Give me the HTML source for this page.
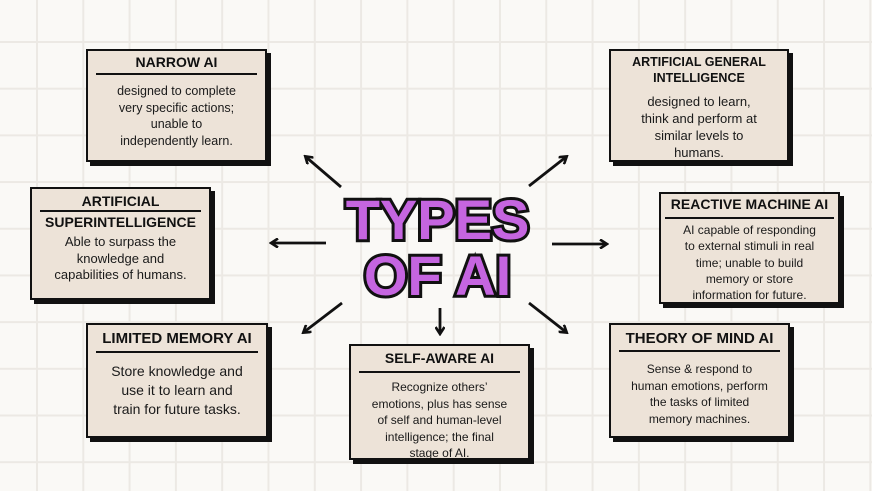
<!DOCTYPE html>
<html><head><meta charset="utf-8"><style>
html,body{margin:0;padding:0}
body{width:872px;height:491px;position:relative;overflow:hidden;background-color:#faf9f6;
background-image:linear-gradient(to right,#ece9e4 2px,transparent 2px),linear-gradient(to bottom,#ece9e4 2px,transparent 2px);
background-size:46.3px 46.7px;background-position:36px 41px;font-family:"Liberation Sans",sans-serif;}
.box{position:absolute;background:#ede3d8;border:2px solid #111;box-shadow:4px 4px 0 #111;box-sizing:border-box;text-align:center;color:#1a1a1a;}
.t{font-weight:bold;color:#111;font-size:14px;line-height:17px;margin:3px 8px 0;padding-bottom:2px;border-bottom:2px solid #111}
.t.nb{border-bottom:none}
.d{font-size:12.5px;line-height:16.5px;margin-top:8px}
.title{position:absolute;left:330px;top:192px;width:215px;text-align:center;font-family:"Liberation Sans",sans-serif;font-weight:bold;font-size:56px;line-height:56px;color:#c565e0;-webkit-text-stroke:6px #111;paint-order:stroke fill;letter-spacing:0}
</style></head><body>
<svg width="872" height="491" style="position:absolute;left:0;top:0">
<defs><marker id="a" markerWidth="10" markerHeight="10" refX="7" refY="5" orient="auto" markerUnits="userSpaceOnUse"><path d="M1,0.5 L8,5 L1,9.5" fill="none" stroke="#111" stroke-width="2.6"/></marker></defs>
<g stroke="#111" stroke-width="2.8" marker-end="url(#a)">
<line x1="341" y1="187" x2="306" y2="157"/>
<line x1="326" y1="243" x2="272" y2="243"/>
<line x1="342" y1="303" x2="304" y2="332"/>
<line x1="440" y1="308" x2="440" y2="333"/>
<line x1="529" y1="303" x2="566" y2="332"/>
<line x1="552" y1="244" x2="606" y2="244"/>
<line x1="529" y1="186" x2="566" y2="157"/>
</g></svg>
<div class="title">TYPES<br>OF AI</div>
<div class="box" style="left:86px;top:49px;width:181px;height:113px"><div class="t">NARROW AI</div><div class="d">designed to complete<br>very specific actions;<br>unable to<br>independently learn.</div></div>
<div class="box" style="left:30px;top:187px;width:181px;height:113px"><div class="t" style="margin-top:4px;padding-bottom:0">ARTIFICIAL</div><div class="t nb" style="margin:2px 0 0">SUPERINTELLIGENCE</div><div class="d" style="font-size:13px;margin-top:1px">Able to surpass the<br>knowledge and<br>capabilities of humans.</div></div>
<div class="box" style="left:86px;top:323px;width:182px;height:115px"><div class="t" style="font-size:15px;margin-top:5px;padding-bottom:4px">LIMITED MEMORY AI</div><div class="d" style="font-size:14px;line-height:19px;margin-top:9px">Store knowledge and<br>use it to learn and<br>train for future tasks.</div></div>
<div class="box" style="left:349px;top:344px;width:181px;height:116px;overflow:hidden"><div class="t" style="margin-top:4px;padding-bottom:4px">SELF-AWARE AI</div><div class="d" style="font-size:12px;line-height:16.5px;margin-top:6px">Recognize others’<br>emotions, plus has sense<br>of self and human-level<br>intelligence; the final<br>stage of AI.</div></div>
<div class="box" style="left:609px;top:323px;width:181px;height:115px"><div class="t" style="font-size:15px;margin-top:5px;padding-bottom:3px">THEORY OF MIND AI</div><div class="d" style="font-size:12px;margin-top:9px">Sense &amp; respond to<br>human emotions, perform<br>the tasks of limited<br>memory machines.</div></div>
<div class="box" style="left:659px;top:192px;width:181px;height:112px"><div class="t" style="margin-top:2px;margin-left:4px;margin-right:4px;padding-bottom:4px">REACTIVE MACHINE AI</div><div class="d" style="font-size:12px;line-height:16.3px;margin-top:3px">AI capable of responding<br>to external stimuli in real<br>time; unable to build<br>memory or store<br>information for future.</div></div>
<div class="box" style="left:609px;top:49px;width:180px;height:113px"><div class="t nb" style="font-size:12.5px;line-height:16px;margin-top:3px">ARTIFICIAL GENERAL<br>INTELLIGENCE</div><div class="d" style="font-size:13px;line-height:17px;margin-top:5px">designed to learn,<br>think and perform at<br>similar levels to<br>humans.</div></div>
</body></html>
